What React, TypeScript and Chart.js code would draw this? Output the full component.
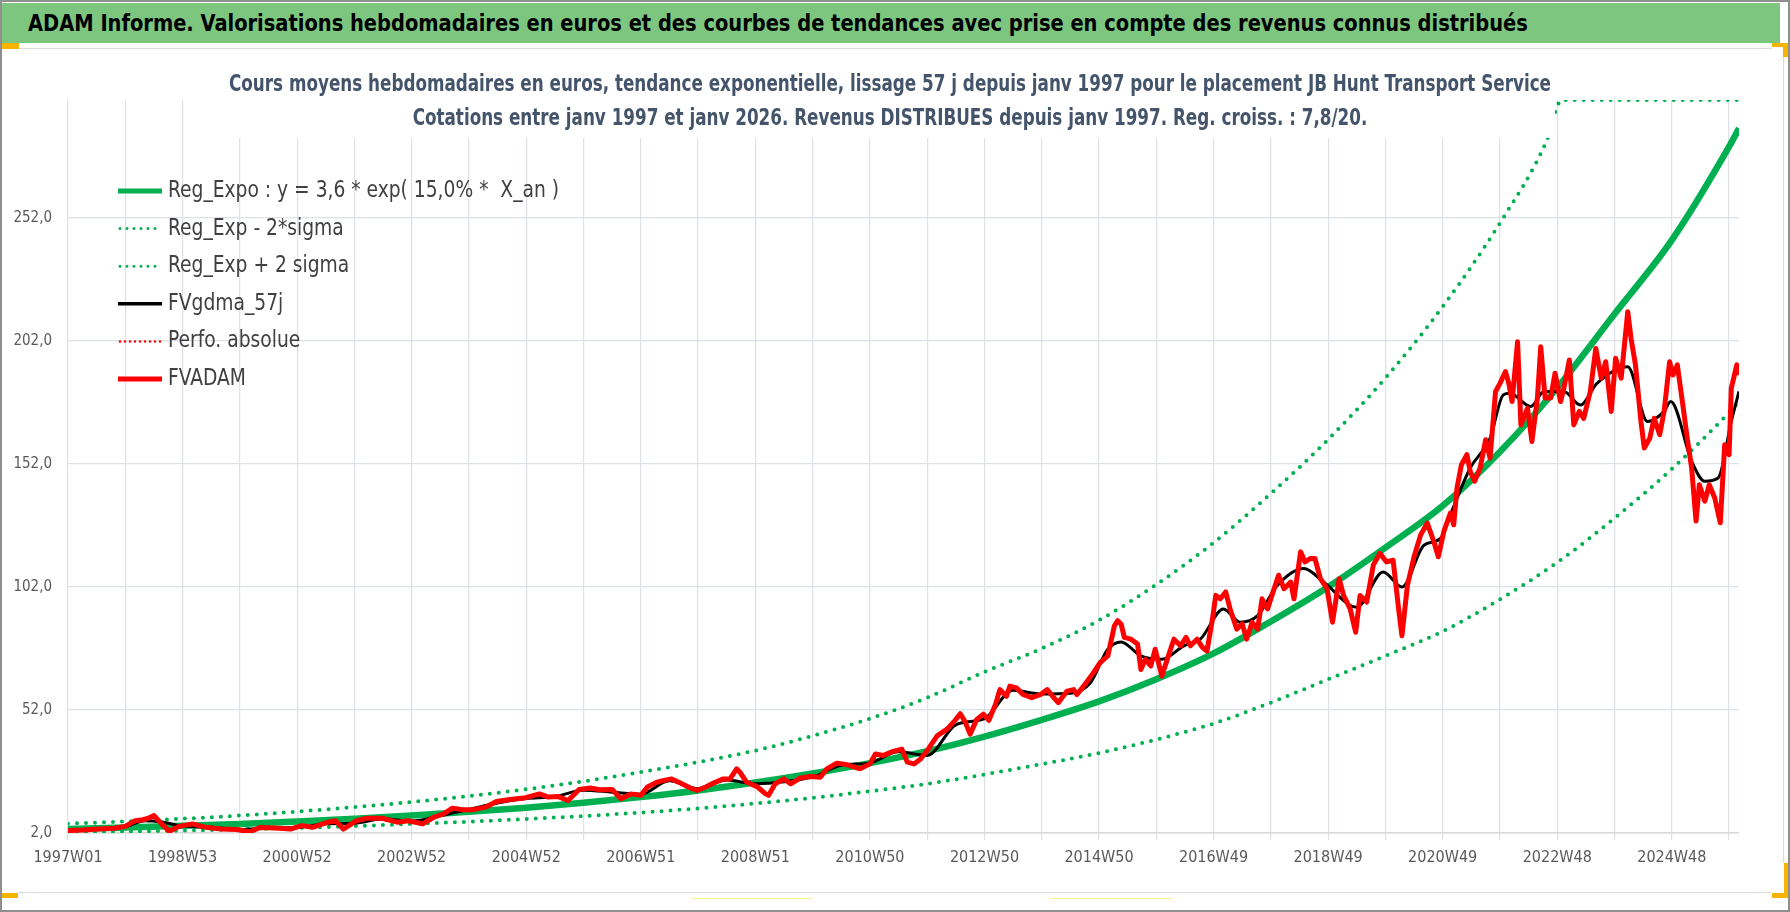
import React, { useEffect, useRef } from 'react';
import { Chart, registerables } from 'chart.js';

Chart.register(...registerables);

const FONT = "'Liberation Sans Narrow', 'Arial Narrow', 'DejaVu Sans Condensed', sans-serif";

const pageTitle =
  'ADAM Informe. Valorisations hebdomadaires en euros et des courbes de tendances avec prise en compte des revenus connus distribués';
const chartTitle = [
  'Cours moyens hebdomadaires en euros, tendance exponentielle, lissage 57 j depuis janv 1997 pour le placement JB Hunt Transport Service',
  'Cotations entre janv 1997 et janv 2026. Revenus DISTRIBUES depuis janv 1997. Reg. croiss. : 7,8/20.',
];

// x = week index since 1997W01
const xTickLabels = [
  '1997W01', '1998W53', '2000W52', '2002W52', '2004W52', '2006W51', '2008W51', '2010W50',
  '2012W50', '2014W50', '2016W49', '2018W49', '2020W49', '2022W48', '2024W48',
];
const yTicks = [2, 52, 102, 152, 202, 252];

const trendWeeks = [
  0, 52, 104, 156, 208, 260, 312, 364, 416, 468, 520, 572, 624, 676, 728, 780,
  832, 884, 936, 988, 1040, 1092, 1144, 1196, 1248, 1300, 1352, 1404, 1456, 1508, 1517,
];
const regExpo = [
  3.6, 4.2, 4.9, 5.7, 6.7, 7.8, 9.1, 10.6, 12.3, 14.3, 16.6, 19.3, 22.5, 26.2, 30.4, 35.3,
  41.2, 48.0, 55.5, 64.5, 75.0, 88.0, 102.0, 118.0, 135.0, 157.0, 183.0, 213.0, 243.0, 281.0, 288.5,
];
const regLow = [
  2.2, 2.6, 3.0, 3.5, 4.1, 4.8, 5.7, 6.6, 7.7, 8.9, 10.3, 12.0, 14.0, 16.3, 19.0, 22.0,
  25.8, 30.0, 34.5, 40.0, 46.5, 55.0, 64.5, 74.0, 84.0, 97.0, 112.0, 130.0, 150.0, 173.0, 177.5,
];
const highWeeks = [
  0, 52, 104, 156, 208, 260, 312, 364, 416, 468, 520, 572, 624, 676, 728, 780,
  832, 884, 936, 988, 1040, 1092, 1144, 1196, 1248, 1300, 1342, 1356, 1517,
];
const regHigh = [
  5.8, 6.7, 7.8, 9.1, 10.7, 12.5, 14.6, 17.0, 19.8, 23.0, 26.8, 30.8, 35.5, 41.5, 48.5, 57.0,
  67.5, 77.0, 88.5, 103.0, 120.0, 140.0, 162.0, 187.0, 216.0, 250.0, 283.0, 300, 300,
];

const gdmaWeeks = [
  0, 26, 52, 70, 85, 104, 130, 156, 182, 208,
  234, 260, 286, 312, 338, 364, 390, 416, 442, 468,
  494, 520, 546, 572, 598, 624, 650, 676, 702, 728,
  754, 780, 806, 832, 858, 884, 910, 928, 944, 956,
  974, 993, 1013, 1028, 1049, 1064, 1080, 1098, 1122, 1140,
  1170, 1194, 1211, 1231, 1246, 1255, 1273, 1291, 1303, 1309,
  1328, 1340, 1358, 1373, 1388, 1416, 1434, 1449, 1455, 1474,
  1486, 1498, 1510, 1517,
];
const gdmaValues = [
  3.0, 3.5, 4.5, 7.0, 6.5, 4.8, 4.3, 3.4, 4.0, 4.2,
  5.8, 6.0, 7.8, 6.8, 9.0, 11.6, 14.2, 16.0, 16.8, 19.4,
  18.6, 17.8, 23.2, 20.0, 23.5, 22.0, 22.8, 24.8, 29.5, 30.5,
  35.0, 33.5, 46.0, 48.5, 60.0, 58.5, 58.8, 63.0, 76.7, 79.7,
  74.0, 72.6, 78.1, 80.8, 93.1, 87.7, 90.4, 102.7, 109.5, 104.0,
  93.8, 108.1, 102.0, 119.0, 121.8, 131.5, 150.4, 162.5, 180.1, 180.8,
  175.4, 181.5, 181.5, 176.0, 184.8, 191.6, 169.3, 173.4, 177.4, 153.1,
  145.0, 146.3, 169.3, 181.5,
];

const adamWeeks = [
  0, 14, 28, 42, 52, 61, 68, 73, 78, 85,
  92, 101, 113, 125, 139, 153, 165, 174, 188, 202,
  212, 222, 236, 243, 250, 262, 271, 285, 299, 309,
  322, 332, 341, 349, 358, 368, 379, 389, 401, 414,
  428, 436, 445, 454, 464, 474, 483, 494, 502, 511,
  520, 526, 535, 541, 548, 556, 565, 571, 579, 586,
  595, 601, 607, 610, 616, 626, 633, 636, 642, 650,
  656, 665, 674, 683, 689, 698, 707, 719, 728, 733,
  740, 749, 757, 762, 768, 774, 780, 789, 798, 805,
  810, 814, 819, 825, 831, 836, 842, 846, 852, 855,
  861, 867, 875, 883, 889, 895, 899, 907, 913, 916,
  922, 931, 937, 944, 950, 953, 956, 959, 965, 971,
  974, 978, 983, 987, 993, 999, 1004, 1010, 1015, 1019,
  1025, 1030, 1034, 1039, 1042, 1046, 1051, 1055, 1061, 1066,
  1070, 1075, 1080, 1084, 1089, 1093, 1099, 1104, 1110, 1113,
  1119, 1123, 1128, 1132, 1137, 1143, 1148, 1154, 1158, 1164,
  1169, 1173, 1179, 1185, 1191, 1197, 1203, 1208, 1211, 1216,
  1222, 1228, 1234, 1240, 1244, 1249, 1255, 1258, 1261, 1265,
  1270, 1273, 1277, 1282, 1287, 1291, 1296, 1300, 1305, 1308,
  1311, 1316, 1319, 1325, 1329, 1334, 1337, 1341, 1346, 1350,
  1355, 1358, 1363, 1367, 1372, 1376, 1382, 1387, 1392, 1396,
  1401, 1405, 1410, 1416, 1419, 1423, 1428, 1431, 1436, 1440,
  1445, 1449, 1454, 1457, 1461, 1466, 1470, 1474, 1478, 1481,
  1486, 1490, 1495, 1500, 1504, 1508, 1510, 1515, 1517,
];
const adamValues = [
  3.0, 3.2, 3.6, 3.9, 4.7, 7.0, 7.4, 8.0, 9.1, 5.7,
  2.7, 4.7, 5.7, 4.3, 3.6, 3.4, 2.5, 4.2, 4.0, 3.6,
  5.0, 4.3, 6.4, 7.0, 3.6, 7.0, 8.0, 8.0, 6.4, 7.0,
  5.7, 8.4, 9.8, 12.1, 11.5, 11.5, 12.5, 14.8, 15.6, 16.2,
  17.9, 16.6, 16.8, 15.2, 19.7, 20.3, 19.6, 19.7, 15.9, 17.9,
  17.3, 20.7, 22.7, 23.4, 24.0, 22.3, 20.3, 19.3, 20.7, 22.3,
  24.0, 24.0, 28.1, 26.7, 22.7, 20.7, 18.0, 17.3, 22.0, 24.0,
  22.0, 24.4, 25.0, 24.7, 28.1, 30.4, 29.8, 28.1, 30.1, 34.1,
  33.5, 35.2, 36.1, 30.8, 30.1, 32.1, 35.5, 41.5, 44.2, 47.6,
  50.5, 47.6, 42.2, 48.2, 50.3, 47.8, 54.3, 60.3, 57.6, 61.7,
  61.0, 58.3, 57.0, 58.3, 60.3, 57.0, 55.0, 59.7, 60.3, 58.3,
  61.7, 67.2, 71.3, 74.0, 86.3, 88.3, 87.0, 81.5, 80.8, 78.8,
  68.5, 72.6, 69.9, 76.7, 65.8, 74.0, 80.8, 78.1, 81.5, 78.1,
  80.8, 77.4, 76.0, 89.0, 98.6, 97.2, 100.0, 93.1, 84.9, 87.0,
  80.8, 87.7, 84.9, 97.2, 93.1, 98.6, 106.8, 101.3, 104.0, 97.2,
  116.3, 112.2, 113.6, 113.6, 105.4, 101.3, 87.7, 105.4, 98.6, 93.1,
  83.6, 98.6, 95.9, 110.9, 115.7, 112.2, 112.9, 93.1, 82.2, 102.7,
  114.3, 123.2, 128.0, 120.4, 114.3, 124.5, 132.1, 127.3, 142.3, 151.7,
  155.8, 149.0, 145.0, 150.4, 161.9, 154.4, 181.5, 184.8, 189.6, 184.8,
  177.4, 201.7, 167.9, 174.7, 161.2, 178.8, 199.7, 178.8, 178.8, 188.9,
  177.4, 182.8, 194.3, 167.9, 173.4, 170.6, 181.5, 199.0, 186.9, 193.6,
  173.4, 195.0, 186.9, 213.9, 203.1, 192.3, 169.3, 158.5, 162.5, 170.6,
  163.9, 173.4, 193.6, 188.2, 192.3, 176.1, 162.5, 150.4, 128.8, 143.6,
  136.9, 143.6, 138.2, 128.1, 159.8, 155.8, 182.8, 192.3, 188.2,
];

const toPoints = (xs: number[], ys: number[]) => xs.map((x, i) => ({ x, y: ys[i] }));

// legend drawn inside the plot, Excel style (narrow, tall text)
const legendPlugin = {
  id: 'adamLegend',
  afterDraw(chart: any) {
    const { ctx } = chart;
    const left = chart.chartArea.left + 50;
    const datasets = chart.data.datasets;
    ctx.save();
    ctx.font = `23px ${FONT}`;
    const sx = 391 / ctx.measureText(datasets[0].label).width;
    datasets.forEach((ds: any, i: number) => {
      const y = 191 + i * 37.6;
      ctx.beginPath();
      ctx.strokeStyle = ds.borderColor;
      ctx.lineWidth = ds.legendWidth || ds.borderWidth;
      ctx.setLineDash(ds.legendDash || []);
      ctx.lineCap = ds.legendDash ? 'round' : 'butt';
      ctx.moveTo(left + (ds.legendDash ? 2 : 0), y);
      ctx.lineTo(left + 44, y);
      ctx.stroke();
      ctx.setLineDash([]);
      ctx.save();
      ctx.translate(left + 50, y);
      ctx.scale(sx, 1);
      ctx.fillStyle = '#404040';
      ctx.textAlign = 'left';
      ctx.textBaseline = 'middle';
      ctx.fillText(ds.label, 0, 0);
      ctx.restore();
    });
    ctx.restore();
  },
};

// white title box laid over the top of the plot
const titlePlugin = {
  id: 'adamTitle',
  afterDraw(chart: any) {
    const { ctx } = chart;
    ctx.save();
    ctx.fillStyle = '#ffffff';
    ctx.fillRect(225, 62, 1330, 76);
    ctx.fillStyle = '#44546A';
    ctx.font = `bold 23px ${FONT}`;
    ctx.textAlign = 'center';
    ctx.textBaseline = 'middle';
    const sx = 1322 / ctx.measureText(chartTitle[0]).width;
    chartTitle.forEach((t, i) => {
      ctx.save();
      ctx.translate(890, 85 + i * 34);
      ctx.scale(sx, 1);
      ctx.fillText(t, 0, 0);
      ctx.restore();
    });
    ctx.restore();
  },
};

const ChartComponent: React.FC = () => {
  const chartRef = useRef<HTMLCanvasElement>(null);
  const chartInstance = useRef<Chart | null>(null);

  useEffect(() => {
    if (!chartRef.current) return;
    if (chartInstance.current) chartInstance.current.destroy();

    const green = '#00b050';
    const data: any = {
      datasets: [
        {
          label: 'Reg_Expo : y = 3,6 * exp( 15,0% *  X_an )',
          data: toPoints(trendWeeks, regExpo),
          borderColor: green,
          borderWidth: 6.5,
          legendWidth: 5,
          cubicInterpolationMode: 'monotone',
          order: 6,
        },
        {
          label: 'Reg_Exp - 2*sigma',
          data: toPoints(trendWeeks, regLow),
          borderColor: green,
          borderWidth: 4,
          borderDash: [0, 9],
          borderCapStyle: 'round',
          legendDash: [0, 7],
          legendWidth: 3,
          cubicInterpolationMode: 'monotone',
          order: 5,
        },
        {
          label: 'Reg_Exp + 2 sigma',
          data: toPoints(highWeeks, regHigh),
          borderColor: green,
          borderWidth: 4,
          borderDash: [0, 9],
          borderCapStyle: 'round',
          legendDash: [0, 7],
          legendWidth: 3,
          cubicInterpolationMode: 'monotone',
          order: 4,
        },
        {
          label: 'FVgdma_57j',
          data: toPoints(gdmaWeeks, gdmaValues),
          borderColor: '#000000',
          borderWidth: 3,
          legendWidth: 3.5,
          cubicInterpolationMode: 'monotone',
          order: 3,
        },
        {
          label: 'Perfo. absolue',
          data: [],
          borderColor: '#ff0000',
          borderWidth: 2.5,
          legendDash: [0, 5],
          legendWidth: 2.5,
          order: 2,
        },
        {
          label: 'FVADAM',
          data: toPoints(adamWeeks, adamValues),
          borderColor: '#ff0000',
          borderWidth: 5,
          legendWidth: 5,
          borderJoinStyle: 'round',
          order: 1,
        },
      ],
    };

    chartInstance.current = new Chart(chartRef.current, {
      type: 'line',
      data,
      options: {
        responsive: false,
        maintainAspectRatio: false,
        animation: false,
        parsing: false,
        elements: { point: { radius: 0, hoverRadius: 0 }, line: { fill: false } },
        layout: { padding: { left: 8, top: 100, right: 51, bottom: 39 } },
        plugins: { legend: { display: false }, tooltip: { enabled: false }, title: { display: false } },
        scales: {
          x: {
            type: 'linear',
            min: 0,
            max: 1517,
            afterBuildTicks: (scale: any) => {
              scale.ticks = Array.from({ length: 30 }, (_, i) => ({ value: i * 52 }));
            },
            afterFit: (scale: any) => {
              scale.height = 40;
            },
            grid: { color: '#dde1e8', lineWidth: 1.2, tickLength: 7, drawTicks: true },
            border: { display: true, color: '#d9d9d9', width: 1.5 },
            ticks: {
              autoSkip: false,
              maxRotation: 0,
              minRotation: 0,
              padding: 8,
              color: '#595959',
              font: { family: FONT, size: 16 },
              callback: (v: any) => (v % 104 === 0 ? xTickLabels[v / 104] : ''),
            },
          },
          y: {
            type: 'linear',
            min: 2,
            max: 300,
            afterBuildTicks: (scale: any) => {
              scale.ticks = yTicks.map((v) => ({ value: v }));
            },
            afterFit: (scale: any) => {
              scale.width = 60;
            },
            grid: { color: '#dde1e8', lineWidth: 1.2, drawTicks: false },
            border: { display: false },
            ticks: {
              padding: 16,
              color: '#595959',
              font: { family: FONT, size: 15 },
              callback: (v: any) => Number(v).toFixed(1).replace('.', ','),
            },
          },
        },
      } as any,
      plugins: [legendPlugin, titlePlugin],
    });

    return () => {
      if (chartInstance.current) {
        chartInstance.current.destroy();
        chartInstance.current = null;
      }
    };
  }, []);

  return (
    <canvas
      ref={chartRef}
      width={1790}
      height={912}
      style={{ position: 'absolute', left: 0, top: 0, zIndex: 2 }}
    />
  );
};

const box = (left: number, top: number, width: number, height: number, background: string) => (
  <div style={{ position: 'absolute', left, top, width, height, background }} />
);

export default function App() {
  return (
    <div
      style={{
        position: 'fixed',
        left: 0,
        top: 0,
        width: 1790,
        height: 912,
        background: '#ffffff',
        overflow: 'hidden',
      }}
    >
      <div
        style={{
          position: 'absolute',
          left: 2,
          top: 3,
          width: 1778,
          height: 40,
          background: '#7dc67f',
        }}
      >
        <div
          style={{
            position: 'absolute',
            left: 26,
            top: 0,
            fontFamily: FONT,
            fontWeight: 'bold',
            fontSize: 23,
            lineHeight: '40px',
            color: '#000',
            whiteSpace: 'nowrap',
            transform: 'scaleX(0.94)',
            transformOrigin: 'left center',
          }}
        >
          {pageTitle}
        </div>
      </div>
      {box(18, 48, 1754, 1, '#d9dce3')}
      {box(1783, 57, 1, 806, '#d9dce3')}
      {box(18, 892, 1753, 1, '#d9dce3')}
      {box(0, 43, 19, 6, '#f4b400')}
      {box(1772, 43, 16, 4, '#f4b400')}
      {box(1783, 43, 5, 14, '#f4b400')}
      {box(1784, 863, 6, 35, '#f4b400')}
      {box(1772, 893, 18, 5, '#f4b400')}
      {box(0, 893, 18, 5, '#f4b400')}
      {box(692, 898, 120, 1, '#fff176')}
      {box(1051, 898, 120, 1, '#fff176')}
      <div
        style={{
          position: 'absolute',
          inset: 0,
          border: '2px solid #8f8f8f',
          boxSizing: 'border-box',
          pointerEvents: 'none',
          zIndex: 3,
        }}
      />
      <ChartComponent />
    </div>
  );
}
